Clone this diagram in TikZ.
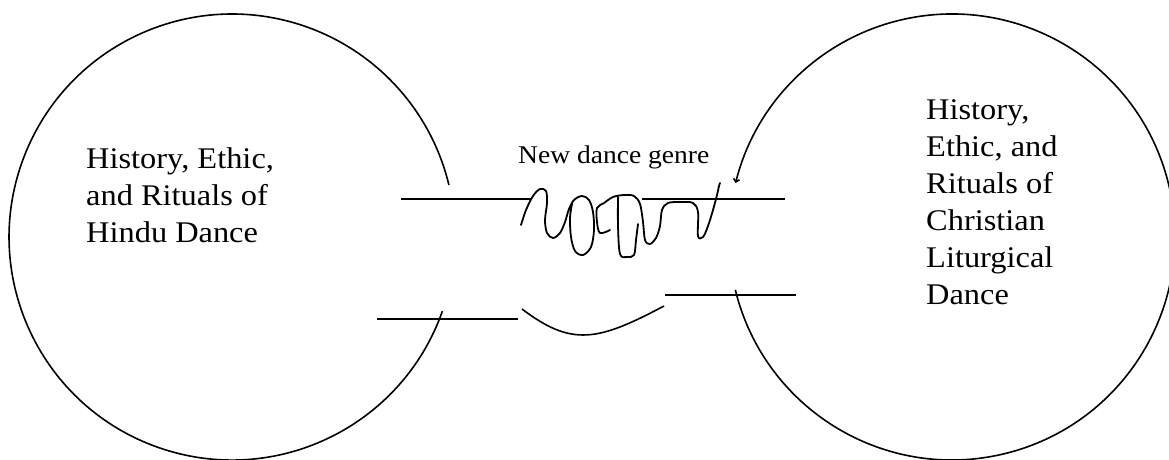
\documentclass[tikz,border=0pt]{standalone}
\usepackage{fontspec}
\setmainfont{Liberation Serif}[FakeStretch=1.08]
\usetikzlibrary{arrows.meta}

\begin{document}
\begin{tikzpicture}[x=1pt,y=-1pt,
    ring/.style={line width=1.6pt},
    bar/.style={line width=1.9pt},
    scribble/.style={line width=1.8pt, line cap=round, line join=round},
    bigtext/.style={font=\fontsize{30}{37}\selectfont, align=left, inner sep=0pt, anchor=north west}]
    \useasboundingbox (0,0) rectangle (1169,460);
    %gap ends of the circles
    \coordinate (hinduLow) at (442.4,311.1);
    \coordinate (christLow) at (735.3,289.8);
    %left circle
    \draw[ring] (hinduLow) arc[start angle=19.4, end angle=346.5, radius=223];
    %right circle
    \draw[ring, -{Straight Barb[length=3pt,width=6pt]}] (christLow) arc[start angle=166.3, end angle=-166, radius=223];
    %bars
    \coordinate (barA1) at (401,199);
    \coordinate (barA2) at (531,199);
    \coordinate (barB1) at (642,199);
    \coordinate (barB2) at (785,199);
    \coordinate (barC1) at (377,319);
    \coordinate (barC2) at (518,319);
    \coordinate (barD1) at (665,295);
    \coordinate (barD2) at (796,295);
    \draw[bar] (barA1) -- (barA2);
    \draw[bar] (barB1) -- (barB2);
    \draw[bar] (barC1) -- (barC2);
    \draw[bar] (barD1) -- (barD2);
    %lower bridge
    \coordinate (bowL) at (522,309);
    \coordinate (bowR) at (664,306);
    \draw[ring] (bowL) .. controls (572,347) and (598,341) .. (bowR);
    %scribble
    \draw[scribble] plot[smooth, tension=0.55] coordinates {(521,225) (526,210) (533,196) (540,189) (546,191) (547,203) (545,220) (547,233) (553,238) (560,233) (565,222) (569,209) (574,200) (582,196) (589,200) (593,212) (594,230) (591,247) (583,255) (575,251) (571,237) (570,218) (572,204)};
    \draw[scribble] plot[smooth, tension=0.55] coordinates {(610,230) (600,233) (597,222) (597,208) (604,203) (613,197) (624,195) (634,196) (640,204) (643,222) (645,240) (650,244) (656,238) (660,226) (662,210) (668,203) (681,202) (693,203) (698,212) (698,236) (703,237) (708,226) (713,210) (717,195) (719,186) (720,183)};
    \draw[scribble] plot[smooth, tension=0.55] coordinates {(618,197) (618,226) (620,254) (627,257) (634,255) (636,240) (638,224)};
    %labels
    \node[bigtext] (hindu) at (86,147.3) {History, Ethic,\\and Rituals of\\Hindu Dance};
    \node[bigtext] (christ) at (926,99.3) {History,\\Ethic, and\\Rituals of\\Christian\\Liturgical\\Dance};
    \node[font=\fontsize{25.5}{30}\selectfont, inner sep=0pt, anchor=base west] (genre) at (518,163) {New dance genre};
\end{tikzpicture}
\end{document}
